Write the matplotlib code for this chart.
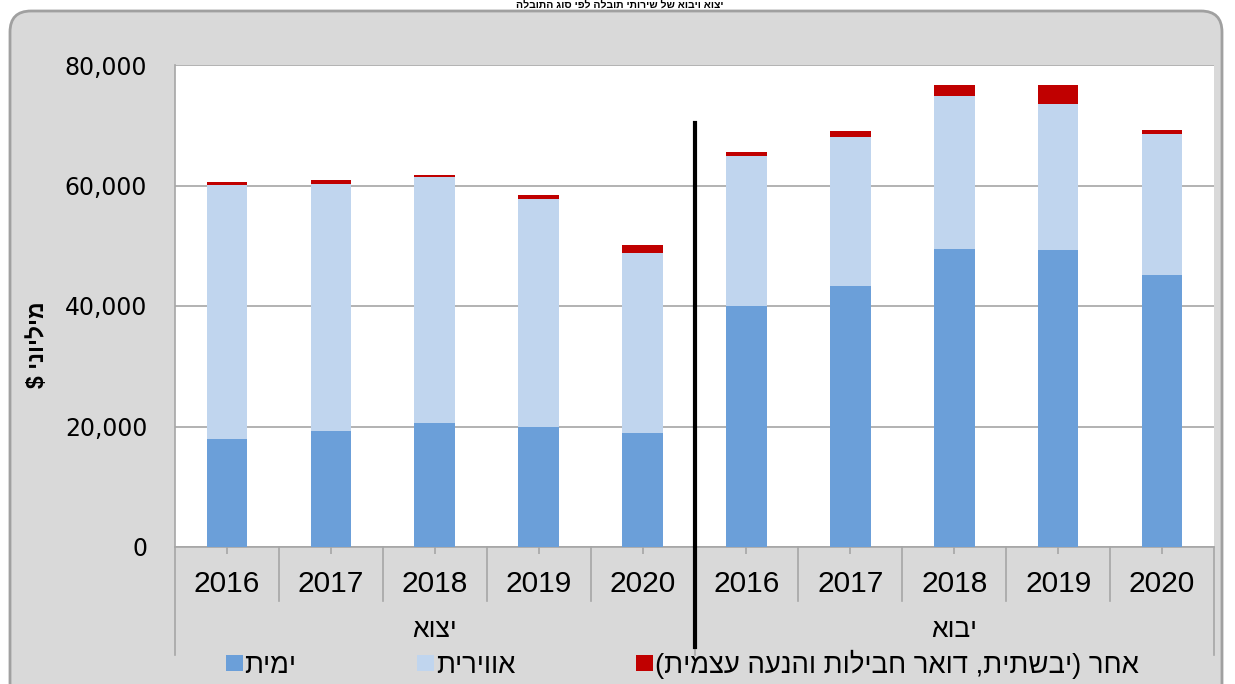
import matplotlib
matplotlib.use("Agg")
import matplotlib.pyplot as plt
import matplotlib.patches as patches
from matplotlib.ticker import FuncFormatter
import numpy as np

# values in millions of $
years = ["2016", "2017", "2018", "2019", "2020"]
groups = ["יצוא", "יבוא"]
sea_export = [18000, 19300, 20550, 19950, 19000]
air_export = [42050, 40900, 40800, 37750, 29750]
other_export = [450, 700, 450, 750, 1350]
sea_import = [40050, 43300, 49450, 49250, 45200]
air_import = [24850, 24800, 25450, 24350, 23300]
other_import = [700, 900, 1750, 3100, 700]
series_names = ["ימית", "אווירית", "אחר (יבשתית, דואר חבילות והנעה עצמית)"]
title = "יצוא ויבוא של שירותי תובלה לפי סוג התובלה"
ylabel = "מיליוני $"


def rtl(s):
    # matplotlib has no bidi, so flip Hebrew into visual order
    return s[::-1].translate(str.maketrans("()", ")("))


HEB = ["Liberation Sans", "DejaVu Sans"]
C_SEA = "#6b9fd9"
C_AIR = "#c0d5ee"
C_OTHER = "#c00000"
GRID = "#a6a6a6"

W, H = 1235, 684
fig = plt.figure(figsize=(W / 100, H / 100), dpi=100, facecolor="white")

# grey rounded chart frame
frame = patches.FancyBboxPatch((10 / W, -20 / H), (1222 - 10) / W, (H - 11 + 20) / H,
                               boxstyle="round,pad=0,rounding_size=0.017",
                               transform=fig.transFigure, facecolor="#d9d9d9",
                               edgecolor="#a0a0a0", linewidth=2, zorder=-5,
                               mutation_aspect=W / H)
fig.patches.append(frame)

fig.text(620 / W, 1.0, rtl(title), ha="center", va="top", fontsize=7.5,
         fontweight="bold", family=HEB)

ax = fig.add_axes([175 / W, (H - 547) / H, (1214 - 175) / W, (547 - 65) / H])
ax.set_facecolor("white")

sea = sea_export + sea_import
air = air_export + air_import
other = other_export + other_import
x = np.arange(len(sea))
bw = 0.39
ax.bar(x, sea, bw, color=C_SEA, zorder=3, label=rtl(series_names[0]))
ax.bar(x, air, bw, bottom=sea, color=C_AIR, zorder=3, label=rtl(series_names[1]))
ax.bar(x, other, bw, bottom=np.add(sea, air), color=C_OTHER, zorder=3,
       label=rtl(series_names[2]))

ax.set_xlim(-0.5, len(x) - 0.5)
ax.set_ylim(0, 80000)
ax.set_yticks(np.arange(0, 80001, 20000))
ax.yaxis.set_major_formatter(FuncFormatter(lambda v, p: f"{int(v):,}"))
ax.grid(axis="y", color=GRID, linewidth=1.2, zorder=1)
ax.tick_params(axis="y", length=0, pad=20, labelsize=17, labelfontfamily="DejaVu Sans")

for s in ["top", "right"]:
    ax.spines[s].set_visible(False)
ax.spines["left"].set_color(GRID)
ax.spines["bottom"].set_color(GRID)
ax.spines["left"].set_linewidth(1.2)
ax.spines["bottom"].set_linewidth(1.2)

ax.set_xticks(x)
ax.set_xticklabels([])
ax.tick_params(axis="x", length=5, color=GRID, width=1.2)

# multi-level category axis
tr = ax.get_xaxis_transform()
for i, xx in enumerate(x):
    ax.text(xx, -0.077, years[i % 5], transform=tr, ha="center", va="center",
            fontsize=21.5, family=HEB)
for b in np.arange(0.5, len(x) - 1, 1.0):
    ax.plot([b, b], [0, -0.112], transform=tr, color=GRID, lw=1.2, clip_on=False)
for b in [-0.5, 4.5, 9.5]:
    ax.plot([b, b], [0, -0.224], transform=tr, color=GRID, lw=1.2, clip_on=False)
for g, name in enumerate(groups):
    ax.text(g * 5 + 2, -0.172, rtl(name), transform=tr, ha="center", va="center",
            fontsize=19, family=HEB)

# export / import divider
ax.plot([4.5, 4.5], [-0.2075, 0.88], transform=tr, color="black", lw=3,
        clip_on=False, zorder=5)

fig.text(37 / W, (H - 345) / H, rtl(ylabel), rotation=90, ha="center", va="center",
         fontsize=16.5, fontweight="bold", family=HEB)

handles, labels = ax.get_legend_handles_labels()
leg = fig.legend(handles, labels, loc="center left", bbox_to_anchor=(226 / W, (H - 664) / H),
                 ncol=3, frameon=False, prop={"family": HEB, "size": 19.8},
                 handlelength=0.62, handleheight=0.55, handletextpad=0.05,
                 columnspacing=4.4, borderpad=0, borderaxespad=0)

fig.savefig("out.png", dpi=100, facecolor=fig.get_facecolor())
